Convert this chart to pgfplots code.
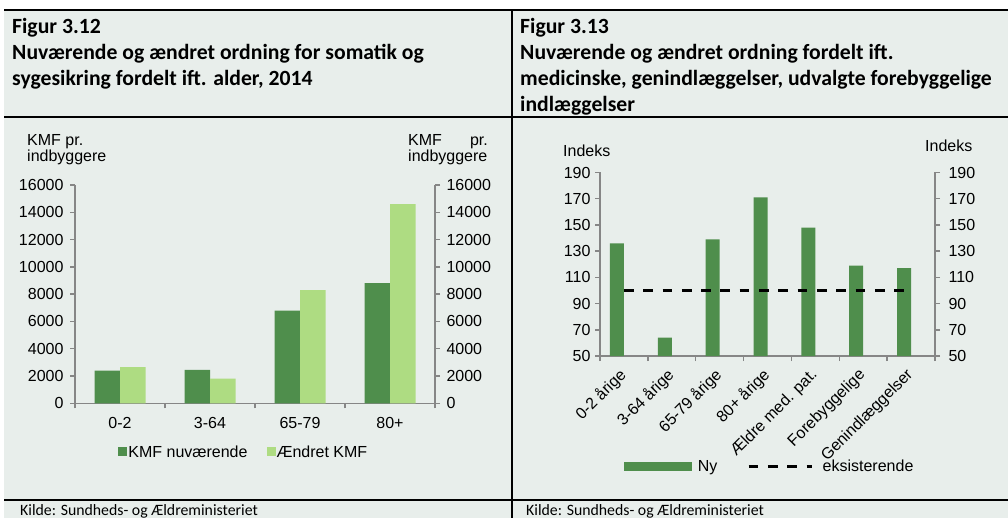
\documentclass[border=0pt]{standalone}
\usepackage{fontspec}
\setmainfont{Carlito}
\newfontfamily\chartfont{Liberation Sans}
\usepackage{pgfplots}
\pgfplotsset{compat=1.18}
\definecolor{bg}{RGB}{232,238,235}
\definecolor{dkg}{RGB}{79,142,76}
\definecolor{ltg}{RGB}{174,220,130}
\definecolor{axg}{RGB}{134,134,134}
\newcommand\cf{\chartfont\fontsize{16}{19}\selectfont}
\newcommand\tf{\bfseries\fontsize{21.7}{26}\selectfont}
\newcommand\kf{\fontsize{15.8}{18}\selectfont}
\pgfplotsset{
  common/.style={
    scale only axis,
    axis line style={draw=axg, line width=1.5pt, -},
    tick style={draw=axg, line width=1.5pt},
    tick align=outside,
    major tick length=5pt,
    ticklabel style={font=\cf, text=black},
    scaled y ticks=false,
    /pgf/number format/assume math mode=true,
    /pgf/number format/1000 sep={},
  },
}
\begin{document}
\begin{tikzpicture}
\path[use as bounding box] (0pt,0pt) rectangle (1008pt,-518pt);
\fill[bg] (4pt,-9pt) rectangle (1008pt,-518pt);
\draw[line width=2pt] (4pt,-10pt) -- (1008pt,-10pt);
\draw[line width=2pt] (4pt,-117pt) -- (1008pt,-117pt);
\draw[line width=2pt] (4pt,-500pt) -- (1008pt,-500pt);
\draw[line width=2pt] (512pt,-10pt) -- (512pt,-518pt);
% titles
\node[anchor=base west, inner sep=0pt, font=\tf] at (12pt,-34pt) {Figur 3.12};
\node[anchor=base west, inner sep=0pt, font=\tf] at (12pt,-60pt) {Nuværende og ændret ordning for somatik og};
\node[anchor=base west, inner sep=0pt, font=\tf] at (12pt,-86pt) {sygesikring fordelt ift. alder, 2014};
\node[anchor=base west, inner sep=0pt, font=\tf] at (520pt,-34pt) {Figur 3.13};
\node[anchor=base west, inner sep=0pt, font=\tf] at (520pt,-60pt) {Nuværende og ændret ordning fordelt ift.};
\node[anchor=base west, inner sep=0pt, font=\tf] at (520pt,-86pt) {medicinske, genindlæggelser, udvalgte forebyggelige};
\node[anchor=base west, inner sep=0pt, font=\tf] at (520pt,-112pt) {indlæggelser};
\node[anchor=base west, inner sep=0pt, font=\kf] at (20pt,-515pt) {Kilde: Sundheds- og Ældreministeriet};
\node[anchor=base west, inner sep=0pt, font=\kf] at (526pt,-515pt) {Kilde: Sundheds- og Ældreministeriet};
% axis titles left chart
\node[anchor=base west, inner sep=0pt, font=\cf] at (27pt,-145.5pt) {KMF pr.};
\node[anchor=base west, inner sep=0pt, font=\cf] at (27pt,-162pt) {indbyggere};
\node[anchor=base west, inner sep=0pt, font=\cf] at (408pt,-145.5pt) {KMF};
\node[anchor=base east, inner sep=0pt, font=\cf] at (488pt,-145.5pt) {pr.};
\node[anchor=base west, inner sep=0pt, font=\cf] at (408pt,-162pt) {indbyggere};
% axis titles right chart
\node[anchor=base west, inner sep=0pt, font=\cf] at (563pt,-156.7pt) {Indeks};
\node[anchor=base west, inner sep=0pt, font=\cf] at (925pt,-151.7pt) {Indeks};

% ---------- left chart ----------
\begin{axis}[common,
  at={(75pt,-403.3pt)}, anchor=south west, width=360pt, height=218.3pt,
  xmin=0, xmax=4, ymin=0, ymax=16000,
  axis x line*=bottom, axis y line*=left,
  ytick={0,2000,...,16000},
  yticklabel style={xshift=-3pt},
  xtick={0,1,2,3,4}, xticklabels={},
  extra x ticks={0.5,1.5,2.5,3.5},
  extra x tick labels={0-2,3-64,65-79,80+},
  extra x tick style={major tick length=0pt, xticklabel style={yshift=-10pt}},
  legend columns=2,
  legend style={at={(0.120,-0.223)}, anchor=west, draw=none, fill=none,
    inner sep=0pt, font=\cf, nodes={inner sep=1pt},
    /tikz/every even column/.append style={column sep=18pt}},
]
\addplot[ybar, bar width=25.5pt, bar shift=-12.75pt, fill=dkg, draw=none,
  legend image code/.code={\fill[dkg] (0pt,-4.5pt) rectangle (9pt,4.5pt);}]
  coordinates {(0.5,2400) (1.5,2450) (2.5,6800) (3.5,8800)};
\addlegendentry{KMF nuværende}
\addplot[ybar, bar width=25.5pt, bar shift=12.75pt, fill=ltg, draw=none,
  legend image code/.code={\fill[ltg] (0pt,-4.5pt) rectangle (9pt,4.5pt);}]
  coordinates {(0.5,2650) (1.5,1800) (2.5,8300) (3.5,14600)};
\addlegendentry{Ændret KMF}
\end{axis}
\begin{axis}[common,
  at={(75pt,-403.3pt)}, anchor=south west, width=360pt, height=218.3pt,
  xmin=0, xmax=4, ymin=0, ymax=16000,
  axis x line=none, axis y line*=right,
  ytick={0,2000,...,16000},
  yticklabel style={xshift=3pt},
]
\end{axis}

% ---------- right chart ----------
\begin{axis}[common,
  at={(600pt,-356pt)}, anchor=south west, width=335pt, height=183.5pt,
  xmin=0, xmax=7, ymin=50, ymax=190,
  axis x line*=bottom, axis y line*=left,
  ytick={50,70,...,190},
  yticklabel style={xshift=-1pt},
  xtick={0,...,7}, xticklabels={},
  extra x ticks={0.5,1.5,2.5,3.5,4.5,5.5,6.5},
  extra x tick labels={0-2 årige,3-64 årige,65-79 årige,80+ årige,Ældre med. pat.,Forebyggelige,Genindlæggelser},
  extra x tick style={major tick length=0pt, xticklabel style={xshift=2pt, yshift=-14pt, rotate=45, anchor=east}},
  legend columns=2,
  legend style={at={(0.0707,-0.602)}, anchor=west, draw=none, fill=none,
    inner sep=0pt, font=\cf, nodes={inner sep=1pt},
    /tikz/every odd column/.append style={column sep=5pt},
    /tikz/every even column/.append style={column sep=29pt}},
]
\addplot[ybar, bar width=14pt, bar shift=-7pt, fill=dkg, draw=none,
  legend image code/.code={\fill[dkg] (0pt,-4.5pt) rectangle (68pt,4.5pt);}]
  coordinates {(0.5,136) (1.5,64) (2.5,139) (3.5,171) (4.5,148) (5.5,119) (6.5,117)};
\addlegendentry{Ny}
\addplot[sharp plot, black, line width=2.5pt, dash pattern=on 9.7pt off 9.6pt,
  legend image code/.code={\path[draw=none, fill=none] (0pt,-4.5pt) rectangle (68pt,4.5pt); \draw[black, line width=2.5pt, dash pattern=on 9.7pt off 9.6pt] (0pt,0pt) -- (63pt,0pt);}]
  coordinates {(0.5,100) (6.5,100)};
\addlegendentry{eksisterende}
\end{axis}
\begin{axis}[common,
  at={(600pt,-356pt)}, anchor=south west, width=335pt, height=183.5pt,
  xmin=0, xmax=7, ymin=50, ymax=190,
  axis x line=none, axis y line*=right,
  ytick={50,70,...,190},
  yticklabel style={xshift=5pt},
]
\end{axis}
\end{tikzpicture}
\end{document}
